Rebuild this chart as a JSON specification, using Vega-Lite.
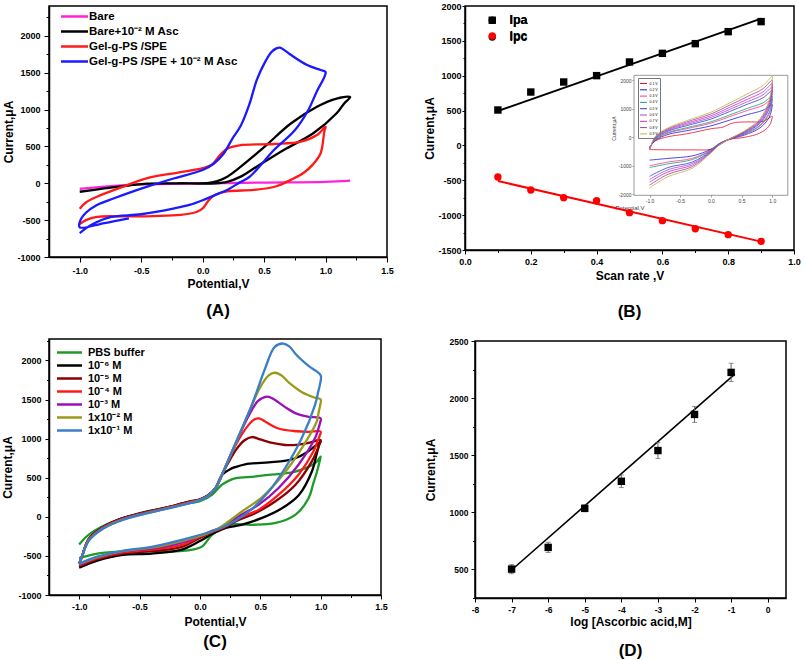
{
"$schema":"https://vega.github.io/schema/vega-lite/v6.json",
"padding":{"left":1,"top":1,"right":0,"bottom":0},
"columns":2,
"align":"none",
"spacing":{"row":15,"column":28},
"resolve":{"scale":{"color":"independent","shape":"independent"},"legend":{"color":"independent","shape":"independent"}},
"concat":[
{"width":338,"height":251,
 "title":{"text":"(A)","orient":"bottom","anchor":"middle","offset":14,"font":"Liberation Sans","fontSize":17,"fontWeight":"bold","color":"black"},
 "data":{"name":"a"},
 "transform":[{"window":[{"op":"row_number","as":"k"}]}],
 "mark":{"type":"line","strokeWidth":2.3,"interpolate":"catmull-rom"},
 "encoding":{
  "x":{"field":"v","type":"quantitative","scale":{"domain":[-1.25,1.5],"nice":false,"zero":false},
   "axis":{"title":"Potential,V","values":[-1,-0.75,-0.5,-0.25,0,0.25,0.5,0.75,1,1.25,1.5],"format":".1f",
    "labelExpr":"abs(datum.value*2-round(datum.value*2))<0.001 ? datum.label : ''",
    "tickSize":{"condition":{"test":"abs(datum.value*2-round(datum.value*2))<0.001","value":5},"value":3},
    "labelPadding":4,"titlePadding":3}},
  "y":{"field":"i","type":"quantitative","scale":{"domain":[-1000,2405],"nice":false,"zero":false},
   "axis":{"title":"Current,μA","values":[-1000,-750,-500,-250,0,250,500,750,1000,1250,1500,1750,2000,2250],"format":"d",
    "labelExpr":"datum.value % 500 == 0 ? datum.label : ''",
    "tickSize":{"condition":{"test":"datum.value % 500 == 0","value":5},"value":3},
    "labelPadding":4,"titlePadding":1}},
  "color":{"field":"s","type":"nominal",
   "scale":{"domain":["Bare","Bare+10⁻² M Asc","Gel-g-PS /SPE","Gel-g-PS /SPE + 10⁻² M Asc"],"range":["#ff22dd","#000000","#ff1a1a","#1a1aff"]},
   "legend":{"orient":"none","legendX":19,"legendY":4,"title":null,"symbolType":"M-2.7,0H2.7","symbolSize":100,"symbolStrokeWidth":2.5,"labelFontSize":11.5,"labelOffset":8,"rowPadding":3,"padding":0,"labelLimit":300}},
  "order":{"field":"k","type":"quantitative"}
 }
},
{"width":329,"height":244,
 "title":{"text":"(B)","orient":"bottom","anchor":"middle","offset":23,"font":"Liberation Sans","fontSize":17,"fontWeight":"bold","color":"black"},
 "resolve":{"scale":{"x":"independent","y":"independent","color":"independent"},"axis":{"x":"independent","y":"independent"},"legend":{"color":"independent"}},
 "layer":[
  {"data":{"values":[{"x0":-1.254,"x1":1.254,"y0":-2035,"y1":2175}]},
   "mark":{"type":"rect","fill":"white","stroke":"#808080","strokeWidth":0.8},
   "encoding":{
    "x":{"field":"x0","type":"quantitative","scale":{"domain":[-4.01,1.355],"nice":false,"zero":false},
     "axis":{"orient":"bottom","offset":-55,"values":[-1,-0.5,0,0.5,1],"format":".1f","domain":false,"tickSize":2,"tickWidth":0.6,"tickColor":"#555","labelFontSize":5,"labelFontWeight":"normal","labelColor":"#444","labelPadding":1,"title":"Potential,V","titleFontSize":6,"titleFontWeight":"normal","titleColor":"#444","titlePadding":1}},
    "x2":{"field":"x1"},
    "y":{"field":"y0","type":"quantitative","scale":{"domain":[-3954,4607],"nice":false,"zero":false},
     "axis":{"orient":"left","offset":-169,"values":[-2000,-1000,0,1000,2000],"format":"d","domain":false,"tickSize":2,"tickWidth":0.6,"tickColor":"#555","labelFontSize":5,"labelFontWeight":"normal","labelColor":"#444","labelPadding":1,"title":"Current,μA","titleFontSize":5,"titleFontWeight":"normal","titleColor":"#444","titlePadding":2}},
    "y2":{"field":"y1"}
   }},
  {"data":{"name":"ins"},
   "transform":[{"window":[{"op":"row_number","as":"k"}]}],
   "mark":{"type":"line","strokeWidth":0.8,"interpolate":"catmull-rom"},
   "encoding":{
    "x":{"field":"v","type":"quantitative","scale":{"domain":[-4.01,1.355],"nice":false,"zero":false},"axis":null},
    "y":{"field":"i","type":"quantitative","scale":{"domain":[-3954,4607],"nice":false,"zero":false},"axis":null},
    "color":{"field":"s","type":"nominal","scale":{"domain":["0.1 V","0.2 V","0.3 V","0.4 V","0.5 V","0.6 V","0.7 V","0.8 V","0.9 V"],"range":["#e8102a","#1a1ae6","#ff3399","#1aa06a","#3a3ad0","#9a50d0","#d02ad0","#a0409a","#b8b840"]},
     "legend":{"orient":"none","legendX":173,"legendY":72,"title":null,"symbolType":"stroke","symbolSize":49,"symbolStrokeWidth":1,"labelFontSize":3.5,"labelFontWeight":"normal","labelOffset":2,"rowPadding":0.3,"padding":1.5,"strokeColor":"#777"}},
    "order":{"field":"k","type":"quantitative"}
   }},
  {"data":{"name":"bfit"},
   "mark":{"type":"line","strokeWidth":2},
   "encoding":{
    "x":{"field":"v","type":"quantitative","scale":{"domain":[0,1],"nice":false,"zero":false},"axis":null},
    "y":{"field":"i","type":"quantitative","scale":{"domain":[-1500,2000],"nice":false,"zero":false},"axis":null},
    "color":{"field":"s","type":"nominal","scale":{"domain":["Ipa","Ipc"],"range":["#000000","#ff0000"]},"legend":null}
   }},
  {"data":{"name":"bpts"},
   "mark":{"type":"point","filled":true,"size":55,"opacity":1},
   "encoding":{
    "x":{"field":"v","type":"quantitative","scale":{"domain":[0,1],"nice":false,"zero":false},
     "axis":{"orient":"bottom","title":"Scan rate ,V","values":[0,0.1,0.2,0.3,0.4,0.5,0.6,0.7,0.8,0.9,1],"format":".1f",
      "labelExpr":"abs(datum.value*5-round(datum.value*5))<0.001 ? datum.label : ''",
      "tickSize":{"condition":{"test":"abs(datum.value*5-round(datum.value*5))<0.001","value":4},"value":2.5},
      "labelPadding":3,"titlePadding":4}},
    "y":{"field":"i","type":"quantitative","scale":{"domain":[-1500,2000],"nice":false,"zero":false},
     "axis":{"orient":"left","title":"Current,μA","values":[-1500,-1250,-1000,-750,-500,-250,0,250,500,750,1000,1250,1500,1750,2000],"format":"d",
      "labelExpr":"datum.value % 500 == 0 ? datum.label : ''",
      "tickSize":{"condition":{"test":"datum.value % 500 == 0","value":3},"value":2},
      "labelPadding":1,"titlePadding":1}},
    "color":{"field":"s","type":"nominal","scale":{"domain":["Ipa","Ipc"],"range":["#000000","#ff0000"]},
     "legend":{"orient":"none","legendX":21,"legendY":8,"title":null,"symbolSize":55,"labelFontSize":12.5,"labelOffset":11,"rowPadding":2.8,"padding":0}},
    "shape":{"field":"s","type":"nominal","scale":{"domain":["Ipa","Ipc"],"range":["square","circle"]},
     "legend":{"orient":"none","legendX":21,"legendY":8,"title":null,"symbolSize":55,"labelFontSize":12.5,"labelOffset":11,"rowPadding":2.8,"padding":0}}
   }}
 ]
},
{"width":332,"height":256,
 "title":{"text":"(C)","orient":"bottom","anchor":"middle","offset":7,"font":"Liberation Sans","fontSize":17,"fontWeight":"bold","color":"black"},
 "data":{"name":"c"},
 "transform":[{"window":[{"op":"row_number","as":"k"}]}],
 "mark":{"type":"line","strokeWidth":2.3,"interpolate":"catmull-rom"},
 "encoding":{
  "x":{"field":"v","type":"quantitative","scale":{"domain":[-1.25,1.5],"nice":false,"zero":false},
   "axis":{"title":"Potential,V","values":[-1,-0.75,-0.5,-0.25,0,0.25,0.5,0.75,1,1.25,1.5],"format":".1f",
    "labelExpr":"abs(datum.value*2-round(datum.value*2))<0.001 ? datum.label : ''",
    "tickSize":{"condition":{"test":"abs(datum.value*2-round(datum.value*2))<0.001","value":4},"value":2.5},
    "labelPadding":3,"titlePadding":5}},
  "y":{"field":"i","type":"quantitative","scale":{"domain":[-1000,2275],"nice":false,"zero":false},
   "axis":{"title":"Current,μA","values":[-1000,-750,-500,-250,0,250,500,750,1000,1250,1500,1750,2000,2250],"format":"d",
    "labelExpr":"datum.value % 500 == 0 ? datum.label : ''",
    "tickSize":{"condition":{"test":"datum.value % 500 == 0","value":4},"value":2.5},
    "labelPadding":4,"titlePadding":3}},
  "color":{"field":"s","type":"nominal",
   "scale":{"domain":["PBS buffer","10⁻⁶ M"," 10⁻⁵ M"," 10⁻⁴ M"," 10⁻³ M","1x10⁻² M","1x10⁻¹ M"],"range":["#1f9a2a","#000000","#8b0000","#ff1a1a","#9a10b8","#9a9a1a","#3a7ec8"]},
   "legend":{"orient":"none","legendX":14,"legendY":7,"title":null,"symbolType":"M-2.5,0H2.5","symbolSize":100,"symbolStrokeWidth":2.5,"labelFontSize":11,"labelOffset":12,"rowPadding":1,"padding":0,"labelLimit":300}},
  "order":{"field":"k","type":"quantitative"}
 }
},
{"width":311,"height":257,
 "title":{"text":"(D)","orient":"bottom","anchor":"middle","offset":15,"font":"Liberation Sans","fontSize":17,"fontWeight":"bold","color":"black"},
 "encoding":{
  "x":{"field":"v","type":"quantitative","scale":{"domain":[-8,0.5],"nice":false,"zero":false},
   "axis":{"title":"log [Ascorbic acid,M]","values":[-8,-7.5,-7,-6.5,-6,-5.5,-5,-4.5,-4,-3.5,-3,-2.5,-2,-1.5,-1,-0.5,0],"format":"d",
    "labelExpr":"abs(datum.value-round(datum.value))<0.001 ? datum.label : ''",
    "tickSize":{"condition":{"test":"abs(datum.value-round(datum.value))<0.001","value":4},"value":2.5},
    "labelPadding":3,"titlePadding":3,"labelFontSize":8.5}},
  "y":{"field":"i","type":"quantitative","scale":{"domain":[250,2500],"nice":false,"zero":false},
   "axis":{"title":"Current,μA","values":[250,500,750,1000,1250,1500,1750,2000,2250,2500],"format":"d",
    "labelExpr":"datum.value % 500 == 0 ? datum.label : ''",
    "tickSize":{"condition":{"test":"datum.value % 500 == 0","value":4},"value":2.5},
    "labelPadding":3,"titlePadding":12,"labelFontSize":8.5}}
 },
 "layer":[
  {"data":{"name":"dfit"},"mark":{"type":"line","color":"black","strokeWidth":1.6}},
  {"data":{"name":"d"},"mark":{"type":"errorbar","ticks":true,"color":"#666666","thickness":1},
   "encoding":{"yError":{"field":"e"}}},
  {"data":{"name":"d"},"mark":{"type":"square","color":"black","size":55,"opacity":1}}
 ]
}
],
"datasets":{
"a":[
{"s":"Bare","v":-1.0,"i":-75},{"s":"Bare","v":-0.8,"i":-45},{"s":"Bare","v":-0.5,"i":-15},{"s":"Bare","v":0.0,"i":0},{"s":"Bare","v":0.5,"i":10},{"s":"Bare","v":1.0,"i":20},{"s":"Bare","v":1.2,"i":35},
{"s":"Bare+10⁻² M Asc","v":-1.0,"i":-115},{"s":"Bare+10⁻² M Asc","v":-0.8,"i":-70},{"s":"Bare+10⁻² M Asc","v":-0.6,"i":-30},{"s":"Bare+10⁻² M Asc","v":-0.45,"i":-5},{"s":"Bare+10⁻² M Asc","v":-0.2,"i":0},{"s":"Bare+10⁻² M Asc","v":0.05,"i":5},{"s":"Bare+10⁻² M Asc","v":0.12,"i":30},{"s":"Bare+10⁻² M Asc","v":0.2,"i":90},{"s":"Bare+10⁻² M Asc","v":0.31,"i":225},{"s":"Bare+10⁻² M Asc","v":0.5,"i":490},{"s":"Bare+10⁻² M Asc","v":0.72,"i":814},{"s":"Bare+10⁻² M Asc","v":0.93,"i":1039},{"s":"Bare+10⁻² M Asc","v":1.09,"i":1150},{"s":"Bare+10⁻² M Asc","v":1.2,"i":1170},
{"s":"Bare+10⁻² M Asc","v":1.15,"i":1080},{"s":"Bare+10⁻² M Asc","v":1.09,"i":950},{"s":"Bare+10⁻² M Asc","v":0.9,"i":678},{"s":"Bare+10⁻² M Asc","v":0.66,"i":452},{"s":"Bare+10⁻² M Asc","v":0.44,"i":225},{"s":"Bare+10⁻² M Asc","v":0.31,"i":90},{"s":"Bare+10⁻² M Asc","v":0.2,"i":20},{"s":"Bare+10⁻² M Asc","v":0.1,"i":0},{"s":"Bare+10⁻² M Asc","v":-0.1,"i":0},
{"s":"Gel-g-PS /SPE","v":-1.0,"i":-345},{"s":"Gel-g-PS /SPE","v":-0.95,"i":-260},{"s":"Gel-g-PS /SPE","v":-0.86,"i":-182},{"s":"Gel-g-PS /SPE","v":-0.7,"i":-80},{"s":"Gel-g-PS /SPE","v":-0.45,"i":70},{"s":"Gel-g-PS /SPE","v":-0.2,"i":145},{"s":"Gel-g-PS /SPE","v":0.0,"i":205},{"s":"Gel-g-PS /SPE","v":0.08,"i":260},{"s":"Gel-g-PS /SPE","v":0.14,"i":380},{"s":"Gel-g-PS /SPE","v":0.2,"i":470},{"s":"Gel-g-PS /SPE","v":0.3,"i":515},{"s":"Gel-g-PS /SPE","v":0.58,"i":533},{"s":"Gel-g-PS /SPE","v":0.8,"i":565},{"s":"Gel-g-PS /SPE","v":0.93,"i":655},{"s":"Gel-g-PS /SPE","v":1.0,"i":768},
{"s":"Gel-g-PS /SPE","v":0.99,"i":700},{"s":"Gel-g-PS /SPE","v":0.96,"i":407},{"s":"Gel-g-PS /SPE","v":0.9,"i":260},{"s":"Gel-g-PS /SPE","v":0.82,"i":140},{"s":"Gel-g-PS /SPE","v":0.72,"i":50},{"s":"Gel-g-PS /SPE","v":0.6,"i":-40},{"s":"Gel-g-PS /SPE","v":0.42,"i":-90},{"s":"Gel-g-PS /SPE","v":0.2,"i":-110},{"s":"Gel-g-PS /SPE","v":0.1,"i":-160},{"s":"Gel-g-PS /SPE","v":0.05,"i":-230},{"s":"Gel-g-PS /SPE","v":0.0,"i":-340},{"s":"Gel-g-PS /SPE","v":-0.05,"i":-390},{"s":"Gel-g-PS /SPE","v":-0.18,"i":-430},{"s":"Gel-g-PS /SPE","v":-0.4,"i":-445},{"s":"Gel-g-PS /SPE","v":-0.6,"i":-450},{"s":"Gel-g-PS /SPE","v":-0.86,"i":-455},{"s":"Gel-g-PS /SPE","v":-0.95,"i":-500},{"s":"Gel-g-PS /SPE","v":-1.0,"i":-555},
{"s":"Gel-g-PS /SPE + 10⁻² M Asc","v":-0.6,"i":-475},{"s":"Gel-g-PS /SPE + 10⁻² M Asc","v":-0.8,"i":-540},{"s":"Gel-g-PS /SPE + 10⁻² M Asc","v":-1.0,"i":-598},{"s":"Gel-g-PS /SPE + 10⁻² M Asc","v":-1.0,"i":-525},{"s":"Gel-g-PS /SPE + 10⁻² M Asc","v":-0.95,"i":-400},{"s":"Gel-g-PS /SPE + 10⁻² M Asc","v":-0.86,"i":-294},{"s":"Gel-g-PS /SPE + 10⁻² M Asc","v":-0.72,"i":-203},{"s":"Gel-g-PS /SPE + 10⁻² M Asc","v":-0.6,"i":-130},{"s":"Gel-g-PS /SPE + 10⁻² M Asc","v":-0.45,"i":-46},{"s":"Gel-g-PS /SPE + 10⁻² M Asc","v":-0.23,"i":68},{"s":"Gel-g-PS /SPE + 10⁻² M Asc","v":0.0,"i":180},{"s":"Gel-g-PS /SPE + 10⁻² M Asc","v":0.09,"i":265},{"s":"Gel-g-PS /SPE + 10⁻² M Asc","v":0.17,"i":400},{"s":"Gel-g-PS /SPE + 10⁻² M Asc","v":0.24,"i":600},{"s":"Gel-g-PS /SPE + 10⁻² M Asc","v":0.31,"i":780},{"s":"Gel-g-PS /SPE + 10⁻² M Asc","v":0.38,"i":1070},{"s":"Gel-g-PS /SPE + 10⁻² M Asc","v":0.44,"i":1400},{"s":"Gel-g-PS /SPE + 10⁻² M Asc","v":0.5,"i":1620},{"s":"Gel-g-PS /SPE + 10⁻² M Asc","v":0.56,"i":1780},{"s":"Gel-g-PS /SPE + 10⁻² M Asc","v":0.6,"i":1830},{"s":"Gel-g-PS /SPE + 10⁻² M Asc","v":0.63,"i":1840},{"s":"Gel-g-PS /SPE + 10⁻² M Asc","v":0.67,"i":1800},{"s":"Gel-g-PS /SPE + 10⁻² M Asc","v":0.72,"i":1740},{"s":"Gel-g-PS /SPE + 10⁻² M Asc","v":0.85,"i":1605},{"s":"Gel-g-PS /SPE + 10⁻² M Asc","v":0.96,"i":1537},{"s":"Gel-g-PS /SPE + 10⁻² M Asc","v":1.0,"i":1510},
{"s":"Gel-g-PS /SPE + 10⁻² M Asc","v":0.99,"i":1440},{"s":"Gel-g-PS /SPE + 10⁻² M Asc","v":0.93,"i":1250},{"s":"Gel-g-PS /SPE + 10⁻² M Asc","v":0.86,"i":995},{"s":"Gel-g-PS /SPE + 10⁻² M Asc","v":0.75,"i":720},{"s":"Gel-g-PS /SPE + 10⁻² M Asc","v":0.58,"i":452},{"s":"Gel-g-PS /SPE + 10⁻² M Asc","v":0.5,"i":300},{"s":"Gel-g-PS /SPE + 10⁻² M Asc","v":0.38,"i":85},{"s":"Gel-g-PS /SPE + 10⁻² M Asc","v":0.3,"i":10},{"s":"Gel-g-PS /SPE + 10⁻² M Asc","v":0.2,"i":-90},{"s":"Gel-g-PS /SPE + 10⁻² M Asc","v":0.1,"i":-160},{"s":"Gel-g-PS /SPE + 10⁻² M Asc","v":0.0,"i":-230},{"s":"Gel-g-PS /SPE + 10⁻² M Asc","v":-0.1,"i":-290},{"s":"Gel-g-PS /SPE + 10⁻² M Asc","v":-0.23,"i":-340},{"s":"Gel-g-PS /SPE + 10⁻² M Asc","v":-0.5,"i":-420},{"s":"Gel-g-PS /SPE + 10⁻² M Asc","v":-0.75,"i":-460},{"s":"Gel-g-PS /SPE + 10⁻² M Asc","v":-0.9,"i":-560},{"s":"Gel-g-PS /SPE + 10⁻² M Asc","v":-1.0,"i":-675}
],
"bpts":[
{"s":"Ipa","v":0.1,"i":508},{"s":"Ipa","v":0.2,"i":766},{"s":"Ipa","v":0.3,"i":910},{"s":"Ipa","v":0.4,"i":1001},{"s":"Ipa","v":0.5,"i":1197},{"s":"Ipa","v":0.6,"i":1321},{"s":"Ipa","v":0.7,"i":1460},{"s":"Ipa","v":0.8,"i":1632},{"s":"Ipa","v":0.9,"i":1776},
{"s":"Ipc","v":0.1,"i":-453},{"s":"Ipc","v":0.2,"i":-640},{"s":"Ipc","v":0.3,"i":-749},{"s":"Ipc","v":0.4,"i":-792},{"s":"Ipc","v":0.5,"i":-964},{"s":"Ipc","v":0.6,"i":-1079},{"s":"Ipc","v":0.7,"i":-1194},{"s":"Ipc","v":0.8,"i":-1280},{"s":"Ipc","v":0.9,"i":-1376}
],
"bfit":[{"s":"Ipa","v":0.1,"i":494},{"s":"Ipa","v":0.9,"i":1819},{"s":"Ipc","v":0.1,"i":-511},{"s":"Ipc","v":0.9,"i":-1380}],
"ins":[
{"s":"0.1 V","v":-1,"i":-330},{"s":"0.1 V","v":-0.9,"i":-120},{"s":"0.1 V","v":-0.7,"i":20},{"s":"0.1 V","v":-0.4,"i":120},{"s":"0.1 V","v":0,"i":300},{"s":"0.1 V","v":0.2,"i":360},{"s":"0.1 V","v":0.3,"i":460},{"s":"0.1 V","v":0.4,"i":520},{"s":"0.1 V","v":0.6,"i":540},{"s":"0.1 V","v":0.85,"i":560},{"s":"0.1 V","v":1,"i":740},{"s":"0.1 V","v":1,"i":700},{"s":"0.1 V","v":0.95,"i":400},{"s":"0.1 V","v":0.8,"i":150},{"s":"0.1 V","v":0.55,"i":0},{"s":"0.1 V","v":0.3,"i":-80},{"s":"0.1 V","v":0.15,"i":-250},{"s":"0.1 V","v":0,"i":-420},{"s":"0.1 V","v":-0.3,"i":-440},{"s":"0.1 V","v":-0.7,"i":-440},{"s":"0.1 V","v":-1,"i":-430},
{"s":"0.2 V","v":-1,"i":-350},{"s":"0.2 V","v":-0.9,"i":-100},{"s":"0.2 V","v":-0.7,"i":100},{"s":"0.2 V","v":-0.4,"i":230},{"s":"0.2 V","v":0,"i":400},{"s":"0.2 V","v":0.3,"i":600},{"s":"0.2 V","v":0.6,"i":800},{"s":"0.2 V","v":0.85,"i":950},{"s":"0.2 V","v":1,"i":1150},{"s":"0.2 V","v":1,"i":1100},{"s":"0.2 V","v":0.95,"i":700},{"s":"0.2 V","v":0.8,"i":330},{"s":"0.2 V","v":0.55,"i":80},{"s":"0.2 V","v":0.3,"i":-70},{"s":"0.2 V","v":0.15,"i":-200},{"s":"0.2 V","v":0,"i":-420},{"s":"0.2 V","v":-0.3,"i":-650},{"s":"0.2 V","v":-0.7,"i":-740},{"s":"0.2 V","v":-1,"i":-800},
{"s":"0.3 V","v":-1,"i":-370},{"s":"0.3 V","v":-0.9,"i":-70},{"s":"0.3 V","v":-0.7,"i":146},{"s":"0.3 V","v":-0.4,"i":300},{"s":"0.3 V","v":0,"i":496},{"s":"0.3 V","v":0.3,"i":720},{"s":"0.3 V","v":0.6,"i":946},{"s":"0.3 V","v":0.85,"i":1124},{"s":"0.3 V","v":1,"i":1348},{"s":"0.3 V","v":1,"i":1280},{"s":"0.3 V","v":0.95,"i":820},{"s":"0.3 V","v":0.8,"i":394},{"s":"0.3 V","v":0.55,"i":110},{"s":"0.3 V","v":0.3,"i":-68},{"s":"0.3 V","v":0.15,"i":-210},{"s":"0.3 V","v":0,"i":-446},{"s":"0.3 V","v":-0.3,"i":-736},{"s":"0.3 V","v":-0.7,"i":-868},{"s":"0.3 V","v":-1,"i":-1000},
{"s":"0.4 V","v":-1,"i":-380},{"s":"0.4 V","v":-0.9,"i":-55},{"s":"0.4 V","v":-0.7,"i":169},{"s":"0.4 V","v":-0.4,"i":335},{"s":"0.4 V","v":0,"i":544},{"s":"0.4 V","v":0.3,"i":780},{"s":"0.4 V","v":0.6,"i":1019},{"s":"0.4 V","v":0.85,"i":1211},{"s":"0.4 V","v":1,"i":1447},{"s":"0.4 V","v":1,"i":1370},{"s":"0.4 V","v":0.95,"i":880},{"s":"0.4 V","v":0.8,"i":426},{"s":"0.4 V","v":0.55,"i":125},{"s":"0.4 V","v":0.3,"i":-67},{"s":"0.4 V","v":0.15,"i":-215},{"s":"0.4 V","v":0,"i":-459},{"s":"0.4 V","v":-0.3,"i":-779},{"s":"0.4 V","v":-0.7,"i":-932},{"s":"0.4 V","v":-1,"i":-1060},
{"s":"0.5 V","v":-1,"i":-400},{"s":"0.5 V","v":-0.9,"i":-25},{"s":"0.5 V","v":-0.7,"i":215},{"s":"0.5 V","v":-0.4,"i":405},{"s":"0.5 V","v":0,"i":640},{"s":"0.5 V","v":0.3,"i":900},{"s":"0.5 V","v":0.6,"i":1165},{"s":"0.5 V","v":0.85,"i":1385},{"s":"0.5 V","v":1,"i":1645},{"s":"0.5 V","v":1,"i":1550},{"s":"0.5 V","v":0.95,"i":1000},{"s":"0.5 V","v":0.8,"i":490},{"s":"0.5 V","v":0.55,"i":155},{"s":"0.5 V","v":0.3,"i":-65},{"s":"0.5 V","v":0.15,"i":-225},{"s":"0.5 V","v":0,"i":-485},{"s":"0.5 V","v":-0.3,"i":-865},{"s":"0.5 V","v":-0.7,"i":-1060},{"s":"0.5 V","v":-1,"i":-1370},
{"s":"0.6 V","v":-1,"i":-412},{"s":"0.6 V","v":-0.9,"i":-7},{"s":"0.6 V","v":-0.7,"i":243},{"s":"0.6 V","v":-0.4,"i":447},{"s":"0.6 V","v":0,"i":698},{"s":"0.6 V","v":0.3,"i":972},{"s":"0.6 V","v":0.6,"i":1253},{"s":"0.6 V","v":0.85,"i":1489},{"s":"0.6 V","v":1,"i":1764},{"s":"0.6 V","v":1,"i":1658},{"s":"0.6 V","v":0.95,"i":1072},{"s":"0.6 V","v":0.8,"i":528},{"s":"0.6 V","v":0.55,"i":173},{"s":"0.6 V","v":0.3,"i":-64},{"s":"0.6 V","v":0.15,"i":-231},{"s":"0.6 V","v":0,"i":-501},{"s":"0.6 V","v":-0.3,"i":-917},{"s":"0.6 V","v":-0.7,"i":-1137},{"s":"0.6 V","v":-1,"i":-1480},
{"s":"0.7 V","v":-1,"i":-424},{"s":"0.7 V","v":-0.9,"i":11},{"s":"0.7 V","v":-0.7,"i":270},{"s":"0.7 V","v":-0.4,"i":489},{"s":"0.7 V","v":0,"i":755},{"s":"0.7 V","v":0.3,"i":1044},{"s":"0.7 V","v":0.6,"i":1340},{"s":"0.7 V","v":0.85,"i":1594},{"s":"0.7 V","v":1,"i":1883},{"s":"0.7 V","v":1,"i":1766},{"s":"0.7 V","v":0.95,"i":1144},{"s":"0.7 V","v":0.8,"i":567},{"s":"0.7 V","v":0.55,"i":191},{"s":"0.7 V","v":0.3,"i":-63},{"s":"0.7 V","v":0.15,"i":-237},{"s":"0.7 V","v":0,"i":-516},{"s":"0.7 V","v":-0.3,"i":-968},{"s":"0.7 V","v":-0.7,"i":-1214},{"s":"0.7 V","v":-1,"i":-1570},
{"s":"0.8 V","v":-1,"i":-437},{"s":"0.8 V","v":-0.9,"i":30},{"s":"0.8 V","v":-0.7,"i":300},{"s":"0.8 V","v":-0.4,"i":535},{"s":"0.8 V","v":0,"i":818},{"s":"0.8 V","v":0.3,"i":1122},{"s":"0.8 V","v":0.6,"i":1435},{"s":"0.8 V","v":0.85,"i":1707},{"s":"0.8 V","v":1,"i":2011},{"s":"0.8 V","v":1,"i":1883},{"s":"0.8 V","v":0.95,"i":1222},{"s":"0.8 V","v":0.8,"i":608},{"s":"0.8 V","v":0.55,"i":210},{"s":"0.8 V","v":0.3,"i":-61},{"s":"0.8 V","v":0.15,"i":-244},{"s":"0.8 V","v":0,"i":-533},{"s":"0.8 V","v":-0.3,"i":-1024},{"s":"0.8 V","v":-0.7,"i":-1297},{"s":"0.8 V","v":-1,"i":-1680},
{"s":"0.9 V","v":-1,"i":-450},{"s":"0.9 V","v":-0.9,"i":50},{"s":"0.9 V","v":-0.7,"i":330},{"s":"0.9 V","v":-0.4,"i":580},{"s":"0.9 V","v":0,"i":880},{"s":"0.9 V","v":0.3,"i":1200},{"s":"0.9 V","v":0.6,"i":1530},{"s":"0.9 V","v":0.85,"i":1820},{"s":"0.9 V","v":1,"i":2140},{"s":"0.9 V","v":1,"i":2000},{"s":"0.9 V","v":0.95,"i":1300},{"s":"0.9 V","v":0.8,"i":650},{"s":"0.9 V","v":0.55,"i":230},{"s":"0.9 V","v":0.3,"i":-60},{"s":"0.9 V","v":0.15,"i":-250},{"s":"0.9 V","v":0,"i":-550},{"s":"0.9 V","v":-0.3,"i":-1080},{"s":"0.9 V","v":-0.7,"i":-1380},{"s":"0.9 V","v":-1,"i":-1775}
],
"c":[
{"s":"PBS buffer","v":-1.0,"i":-355},{"s":"PBS buffer","v":-0.93,"i":-240},{"s":"PBS buffer","v":-0.78,"i":-102},{"s":"PBS buffer","v":-0.5,"i":47},{"s":"PBS buffer","v":-0.3,"i":110},{"s":"PBS buffer","v":-0.09,"i":174},{"s":"PBS buffer","v":0.0,"i":200},{"s":"PBS buffer","v":0.1,"i":281},{"s":"PBS buffer","v":0.18,"i":408},{"s":"PBS buffer","v":0.25,"i":470},{"s":"PBS buffer","v":0.3,"i":494},{"s":"PBS buffer","v":0.45,"i":515},{"s":"PBS buffer","v":0.57,"i":536},{"s":"PBS buffer","v":0.7,"i":555},{"s":"PBS buffer","v":0.79,"i":579},{"s":"PBS buffer","v":0.87,"i":620},{"s":"PBS buffer","v":0.93,"i":663},{"s":"PBS buffer","v":0.97,"i":710},{"s":"PBS buffer","v":1.0,"i":770},
{"s":"PBS buffer","v":0.99,"i":700},{"s":"PBS buffer","v":0.97,"i":580},{"s":"PBS buffer","v":0.94,"i":430},{"s":"PBS buffer","v":0.9,"i":238},{"s":"PBS buffer","v":0.79,"i":25},{"s":"PBS buffer","v":0.62,"i":-81},{"s":"PBS buffer","v":0.43,"i":-102},{"s":"PBS buffer","v":0.24,"i":-102},{"s":"PBS buffer","v":0.1,"i":-230},{"s":"PBS buffer","v":0.02,"i":-378},{"s":"PBS buffer","v":-0.1,"i":-430},{"s":"PBS buffer","v":-0.23,"i":-442},{"s":"PBS buffer","v":-0.64,"i":-442},{"s":"PBS buffer","v":-0.85,"i":-470},{"s":"PBS buffer","v":-1.0,"i":-528},
{"s":"10⁻⁶ M","v":-1.0,"i":-600},{"s":"10⁻⁶ M","v":-0.98,"i":-520},{"s":"10⁻⁶ M","v":-0.92,"i":-280},{"s":"10⁻⁶ M","v":-0.8,"i":-130},{"s":"10⁻⁶ M","v":-0.64,"i":-17},{"s":"10⁻⁶ M","v":-0.45,"i":60},{"s":"10⁻⁶ M","v":-0.3,"i":111},{"s":"10⁻⁶ M","v":-0.09,"i":196},{"s":"10⁻⁶ M","v":0.0,"i":225},{"s":"10⁻⁶ M","v":0.07,"i":281},{"s":"10⁻⁶ M","v":0.13,"i":370},{"s":"10⁻⁶ M","v":0.18,"i":530},{"s":"10⁻⁶ M","v":0.25,"i":610},{"s":"10⁻⁶ M","v":0.3,"i":640},{"s":"10⁻⁶ M","v":0.375,"i":672},{"s":"10⁻⁶ M","v":0.57,"i":698},{"s":"10⁻⁶ M","v":0.7,"i":715},{"s":"10⁻⁶ M","v":0.79,"i":749},{"s":"10⁻⁶ M","v":0.88,"i":820},{"s":"10⁻⁶ M","v":0.95,"i":900},{"s":"10⁻⁶ M","v":1.0,"i":962},
{"s":"10⁻⁶ M","v":0.99,"i":930},{"s":"10⁻⁶ M","v":0.96,"i":760},{"s":"10⁻⁶ M","v":0.93,"i":590},{"s":"10⁻⁶ M","v":0.82,"i":280},{"s":"10⁻⁶ M","v":0.68,"i":110},{"s":"10⁻⁶ M","v":0.51,"i":-17},{"s":"10⁻⁶ M","v":0.35,"i":-100},{"s":"10⁻⁶ M","v":0.2,"i":-150},{"s":"10⁻⁶ M","v":0.1,"i":-220},{"s":"10⁻⁶ M","v":0.0,"i":-310},{"s":"10⁻⁶ M","v":-0.15,"i":-420},{"s":"10⁻⁶ M","v":-0.4,"i":-470},{"s":"10⁻⁶ M","v":-0.64,"i":-486},{"s":"10⁻⁶ M","v":-0.85,"i":-560},{"s":"10⁻⁶ M","v":-1.0,"i":-650},
{"s":" 10⁻⁵ M","v":-1.0,"i":-600},{"s":" 10⁻⁵ M","v":-0.98,"i":-520},{"s":" 10⁻⁵ M","v":-0.92,"i":-285},{"s":" 10⁻⁵ M","v":-0.8,"i":-130},{"s":" 10⁻⁵ M","v":-0.64,"i":-20},{"s":" 10⁻⁵ M","v":-0.45,"i":58},{"s":" 10⁻⁵ M","v":-0.3,"i":108},{"s":" 10⁻⁵ M","v":-0.09,"i":190},{"s":" 10⁻⁵ M","v":0.0,"i":222},{"s":" 10⁻⁵ M","v":0.07,"i":278},{"s":" 10⁻⁵ M","v":0.13,"i":370},{"s":" 10⁻⁵ M","v":0.2,"i":590},{"s":" 10⁻⁵ M","v":0.3,"i":860},{"s":" 10⁻⁵ M","v":0.37,"i":980},{"s":" 10⁻⁵ M","v":0.43,"i":1021},{"s":" 10⁻⁵ M","v":0.5,"i":990},{"s":" 10⁻⁵ M","v":0.6,"i":945},{"s":" 10⁻⁵ M","v":0.705,"i":919},{"s":" 10⁻⁵ M","v":0.8,"i":920},{"s":" 10⁻⁵ M","v":0.9,"i":945},{"s":" 10⁻⁵ M","v":1.0,"i":983},
{"s":" 10⁻⁵ M","v":0.99,"i":930},{"s":" 10⁻⁵ M","v":0.97,"i":850},{"s":" 10⁻⁵ M","v":0.926,"i":707},{"s":" 10⁻⁵ M","v":0.79,"i":408},{"s":" 10⁻⁵ M","v":0.623,"i":196},{"s":" 10⁻⁵ M","v":0.458,"i":47},{"s":" 10⁻⁵ M","v":0.32,"i":-39},{"s":" 10⁻⁵ M","v":0.2,"i":-140},{"s":" 10⁻⁵ M","v":0.1,"i":-200},{"s":" 10⁻⁵ M","v":0.0,"i":-270},{"s":" 10⁻⁵ M","v":-0.15,"i":-385},{"s":" 10⁻⁵ M","v":-0.4,"i":-440},{"s":" 10⁻⁵ M","v":-0.64,"i":-470},{"s":" 10⁻⁵ M","v":-0.85,"i":-540},{"s":" 10⁻⁵ M","v":-1.0,"i":-630},
{"s":" 10⁻⁴ M","v":-1.0,"i":-600},{"s":" 10⁻⁴ M","v":-0.98,"i":-520},{"s":" 10⁻⁴ M","v":-0.92,"i":-290},{"s":" 10⁻⁴ M","v":-0.8,"i":-135},{"s":" 10⁻⁴ M","v":-0.64,"i":-25},{"s":" 10⁻⁴ M","v":-0.45,"i":55},{"s":" 10⁻⁴ M","v":-0.3,"i":105},{"s":" 10⁻⁴ M","v":-0.09,"i":185},{"s":" 10⁻⁴ M","v":0.0,"i":220},{"s":" 10⁻⁴ M","v":0.07,"i":276},{"s":" 10⁻⁴ M","v":0.13,"i":370},{"s":" 10⁻⁴ M","v":0.2,"i":600},{"s":" 10⁻⁴ M","v":0.3,"i":930},{"s":" 10⁻⁴ M","v":0.4,"i":1170},{"s":" 10⁻⁴ M","v":0.45,"i":1245},{"s":" 10⁻⁴ M","v":0.49,"i":1260},{"s":" 10⁻⁴ M","v":0.55,"i":1210},{"s":" 10⁻⁴ M","v":0.65,"i":1130},{"s":" 10⁻⁴ M","v":0.8,"i":1095},{"s":" 10⁻⁴ M","v":0.9,"i":1088},{"s":" 10⁻⁴ M","v":1.0,"i":1090},
{"s":" 10⁻⁴ M","v":0.99,"i":1030},{"s":" 10⁻⁴ M","v":0.97,"i":950},{"s":" 10⁻⁴ M","v":0.94,"i":835},{"s":" 10⁻⁴ M","v":0.815,"i":536},{"s":" 10⁻⁴ M","v":0.65,"i":280},{"s":" 10⁻⁴ M","v":0.485,"i":89},{"s":" 10⁻⁴ M","v":0.32,"i":-17},{"s":" 10⁻⁴ M","v":0.2,"i":-130},{"s":" 10⁻⁴ M","v":0.1,"i":-190},{"s":" 10⁻⁴ M","v":0.0,"i":-255},{"s":" 10⁻⁴ M","v":-0.15,"i":-360},{"s":" 10⁻⁴ M","v":-0.4,"i":-420},{"s":" 10⁻⁴ M","v":-0.64,"i":-455},{"s":" 10⁻⁴ M","v":-0.85,"i":-530},{"s":" 10⁻⁴ M","v":-1.0,"i":-620},
{"s":" 10⁻³ M","v":-1.0,"i":-600},{"s":" 10⁻³ M","v":-0.98,"i":-520},{"s":" 10⁻³ M","v":-0.92,"i":-295},{"s":" 10⁻³ M","v":-0.8,"i":-140},{"s":" 10⁻³ M","v":-0.64,"i":-30},{"s":" 10⁻³ M","v":-0.45,"i":50},{"s":" 10⁻³ M","v":-0.3,"i":100},{"s":" 10⁻³ M","v":-0.09,"i":180},{"s":" 10⁻³ M","v":0.0,"i":218},{"s":" 10⁻³ M","v":0.07,"i":274},{"s":" 10⁻³ M","v":0.13,"i":370},{"s":" 10⁻³ M","v":0.2,"i":600},{"s":" 10⁻³ M","v":0.3,"i":950},{"s":" 10⁻³ M","v":0.4,"i":1280},{"s":" 10⁻³ M","v":0.48,"i":1480},{"s":" 10⁻³ M","v":0.554,"i":1537},{"s":" 10⁻³ M","v":0.6,"i":1515},{"s":" 10⁻³ M","v":0.7,"i":1410},{"s":" 10⁻³ M","v":0.8,"i":1320},{"s":" 10⁻³ M","v":0.9,"i":1280},{"s":" 10⁻³ M","v":1.0,"i":1260},
{"s":" 10⁻³ M","v":0.995,"i":1200},{"s":" 10⁻³ M","v":0.98,"i":1120},{"s":" 10⁻³ M","v":0.953,"i":1004},{"s":" 10⁻³ M","v":0.815,"i":663},{"s":" 10⁻³ M","v":0.65,"i":366},{"s":" 10⁻³ M","v":0.485,"i":153},{"s":" 10⁻³ M","v":0.32,"i":5},{"s":" 10⁻³ M","v":0.2,"i":-120},{"s":" 10⁻³ M","v":0.1,"i":-180},{"s":" 10⁻³ M","v":0.0,"i":-245},{"s":" 10⁻³ M","v":-0.15,"i":-330},{"s":" 10⁻³ M","v":-0.4,"i":-405},{"s":" 10⁻³ M","v":-0.64,"i":-445},{"s":" 10⁻³ M","v":-0.85,"i":-520},{"s":" 10⁻³ M","v":-1.0,"i":-610},
{"s":"1x10⁻² M","v":-1.0,"i":-600},{"s":"1x10⁻² M","v":-0.98,"i":-520},{"s":"1x10⁻² M","v":-0.92,"i":-300},{"s":"1x10⁻² M","v":-0.8,"i":-145},{"s":"1x10⁻² M","v":-0.64,"i":-35},{"s":"1x10⁻² M","v":-0.45,"i":45},{"s":"1x10⁻² M","v":-0.3,"i":97},{"s":"1x10⁻² M","v":-0.09,"i":176},{"s":"1x10⁻² M","v":0.0,"i":215},{"s":"1x10⁻² M","v":0.07,"i":272},{"s":"1x10⁻² M","v":0.13,"i":370},{"s":"1x10⁻² M","v":0.2,"i":600},{"s":"1x10⁻² M","v":0.3,"i":950},{"s":"1x10⁻² M","v":0.4,"i":1320},{"s":"1x10⁻² M","v":0.5,"i":1660},{"s":"1x10⁻² M","v":0.57,"i":1810},{"s":"1x10⁻² M","v":0.62,"i":1843},{"s":"1x10⁻² M","v":0.67,"i":1815},{"s":"1x10⁻² M","v":0.75,"i":1700},{"s":"1x10⁻² M","v":0.85,"i":1590},{"s":"1x10⁻² M","v":0.95,"i":1525},{"s":"1x10⁻² M","v":1.0,"i":1502},
{"s":"1x10⁻² M","v":0.995,"i":1420},{"s":"1x10⁻² M","v":0.985,"i":1350},{"s":"1x10⁻² M","v":0.967,"i":1218},{"s":"1x10⁻² M","v":0.843,"i":877},{"s":"1x10⁻² M","v":0.678,"i":520},{"s":"1x10⁻² M","v":0.513,"i":250},{"s":"1x10⁻² M","v":0.348,"i":68},{"s":"1x10⁻² M","v":0.238,"i":-59},{"s":"1x10⁻² M","v":0.15,"i":-150},{"s":"1x10⁻² M","v":0.05,"i":-220},{"s":"1x10⁻² M","v":-0.15,"i":-310},{"s":"1x10⁻² M","v":-0.4,"i":-395},{"s":"1x10⁻² M","v":-0.64,"i":-440},{"s":"1x10⁻² M","v":-0.85,"i":-515},{"s":"1x10⁻² M","v":-1.0,"i":-600},
{"s":"1x10⁻¹ M","v":-1.0,"i":-600},{"s":"1x10⁻¹ M","v":-0.98,"i":-520},{"s":"1x10⁻¹ M","v":-0.92,"i":-305},{"s":"1x10⁻¹ M","v":-0.8,"i":-150},{"s":"1x10⁻¹ M","v":-0.64,"i":-40},{"s":"1x10⁻¹ M","v":-0.45,"i":40},{"s":"1x10⁻¹ M","v":-0.3,"i":94},{"s":"1x10⁻¹ M","v":-0.09,"i":172},{"s":"1x10⁻¹ M","v":0.0,"i":212},{"s":"1x10⁻¹ M","v":0.07,"i":270},{"s":"1x10⁻¹ M","v":0.13,"i":370},{"s":"1x10⁻¹ M","v":0.2,"i":600},{"s":"1x10⁻¹ M","v":0.3,"i":960},{"s":"1x10⁻¹ M","v":0.43,"i":1430},{"s":"1x10⁻¹ M","v":0.54,"i":1898},{"s":"1x10⁻¹ M","v":0.62,"i":2175},{"s":"1x10⁻¹ M","v":0.69,"i":2217},{"s":"1x10⁻¹ M","v":0.74,"i":2180},{"s":"1x10⁻¹ M","v":0.8,"i":2070},{"s":"1x10⁻¹ M","v":0.9,"i":1930},{"s":"1x10⁻¹ M","v":1.0,"i":1812},
{"s":"1x10⁻¹ M","v":0.995,"i":1700},{"s":"1x10⁻¹ M","v":0.98,"i":1600},{"s":"1x10⁻¹ M","v":0.953,"i":1430},{"s":"1x10⁻¹ M","v":0.843,"i":1004},{"s":"1x10⁻¹ M","v":0.705,"i":620},{"s":"1x10⁻¹ M","v":0.568,"i":320},{"s":"1x10⁻¹ M","v":0.43,"i":100},{"s":"1x10⁻¹ M","v":0.293,"i":-50},{"s":"1x10⁻¹ M","v":0.18,"i":-140},{"s":"1x10⁻¹ M","v":0.05,"i":-210},{"s":"1x10⁻¹ M","v":-0.15,"i":-294},{"s":"1x10⁻¹ M","v":-0.4,"i":-385},{"s":"1x10⁻¹ M","v":-0.64,"i":-435},{"s":"1x10⁻¹ M","v":-0.85,"i":-510},{"s":"1x10⁻¹ M","v":-1.0,"i":-600}
],
"d":[{"v":-7,"i":503,"e":40},{"v":-6,"i":693,"e":45},{"v":-5,"i":1035,"e":30},{"v":-4,"i":1272,"e":55},{"v":-3,"i":1541,"e":70},{"v":-2,"i":1857,"e":70},{"v":-1,"i":2225,"e":80}],
"dfit":[{"v":-7,"i":495},{"v":-0.9,"i":2210}]
},
"config":{
 "locale":{"number":{"decimal":".","thousands":",","grouping":[3],"currency":["$",""],"minus":"-"}},
 "view":{"stroke":"black","strokeWidth":1.5},
 "font":"Liberation Sans",
 "axis":{"grid":false,"domainColor":"black","domainWidth":1.5,"tickColor":"black","tickWidth":1,"labelFont":"Liberation Sans","labelFontWeight":"bold","labelFontSize":9,"labelColor":"black","titleFont":"Liberation Sans","titleFontWeight":"bold","titleFontSize":12,"titleColor":"black","labelFlush":false,"labelOverlap":false,"labelBound":false},
 "legend":{"labelFont":"Liberation Sans","labelFontWeight":"bold","labelColor":"black"}
}
}
